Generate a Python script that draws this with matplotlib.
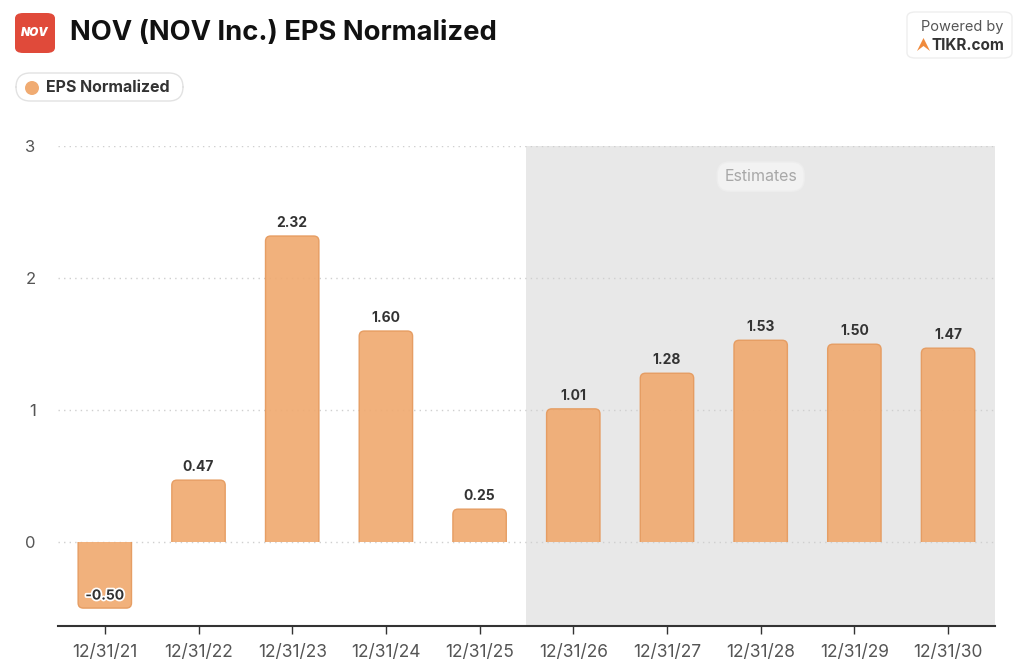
import matplotlib
matplotlib.use("Agg")
import matplotlib.pyplot as plt
from matplotlib.patches import FancyBboxPatch, Rectangle, Circle, Polygon
import matplotlib.patheffects as pe

# ---------------------------------------------------------------------------
# Data
# ---------------------------------------------------------------------------
DATES = ["12/31/21", "12/31/22", "12/31/23", "12/31/24", "12/31/25",
         "12/31/26", "12/31/27", "12/31/28", "12/31/29", "12/31/30"]
EPS = [-0.50, 0.47, 2.32, 1.60, 0.25, 1.01, 1.28, 1.53, 1.50, 1.47]
FIRST_ESTIMATE = 5  # index of the first estimated year
Y_TICKS = [0, 1, 2, 3]

# ---------------------------------------------------------------------------
# Style
# ---------------------------------------------------------------------------
BAR_FACE = "#F0AB72"
BAR_EDGE = "#E59A5E"
EST_BG = "#E8E8E8"
TEXT_DARK = "#333333"
TEXT_GRAY = "#555555"
GRID = "#CFCFCF"

plt.rcParams["font.family"] = ["Inter", "DejaVu Sans"]

fig = plt.figure(figsize=(10.24, 6.71), dpi=100)
ax = fig.add_axes([0.0566, 0.067, 0.915, 0.715])

ymin, ymax = -0.636, 3.0
ax.set_xlim(-0.5, len(DATES) - 0.5)
ax.set_ylim(ymin, ymax)

# estimates shading
ax.axvspan(FIRST_ESTIMATE - 0.5, len(DATES) - 0.5, color=EST_BG, zorder=0, lw=0)

for y in Y_TICKS:
    ax.axhline(y, color=GRID, lw=1, ls=(0, (1, 3)), zorder=1)

# bars (rounded ends away from zero)
bw = 0.57
px_per_x = 0.915 * 1024 / len(DATES)
px_per_y = 0.715 * 671 / (ymax - ymin)
aspect = px_per_x / px_per_y
r = 0.055  # rounding in x-data units
bars = ax.bar(range(len(DATES)), EPS, width=bw, color="none", edgecolor="none")
for i, (b, v) in enumerate(zip(bars, EPS)):
    x0 = b.get_x()
    ext = r * aspect
    if v >= 0:
        y0, h = -ext, v + ext
        clip = Rectangle((x0 - 0.1, 0), bw + 0.2, 10, transform=ax.transData)
    else:
        y0, h = v, -v + ext
        clip = Rectangle((x0 - 0.1, -10), bw + 0.2, 10, transform=ax.transData)
    patch = FancyBboxPatch((x0, y0), bw, h,
                           boxstyle=f"round,pad=0,rounding_size={r}",
                           mutation_aspect=aspect,
                           facecolor=BAR_FACE, edgecolor=BAR_EDGE, lw=1.0,
                           alpha=0.93, zorder=3)
    ax.add_patch(patch)
    patch.set_clip_path(clip)

    if v >= 0:
        ax.annotate(f"{v:.2f}", (i, v), xytext=(0, 4.5), textcoords="offset points",
                    ha="center", va="bottom", fontsize=10, fontweight="bold",
                    color=TEXT_DARK, zorder=5)
    else:
        t = ax.annotate(f"{v:.2f}", (i, v), xytext=(0, 4), textcoords="offset points",
                        ha="center", va="bottom", fontsize=10, fontweight="bold",
                        color=TEXT_DARK, zorder=5)
        t.set_path_effects([pe.withStroke(linewidth=2.5, foreground="white")])

# Estimates pill
ax.text((FIRST_ESTIMATE - 0.5 + len(DATES) - 0.5) / 2, 2.77, "Estimates",
        ha="center", va="center", fontsize=11.5, color="#A8A8A8", zorder=4,
        bbox=dict(boxstyle="round,pad=0.45,rounding_size=0.8",
                  facecolor="#F2F2F2", edgecolor="#EDEDED", lw=1))

# axes styling
for s in ["top", "right", "left"]:
    ax.spines[s].set_visible(False)
ax.spines["bottom"].set_position(("data", ymin))
ax.spines["bottom"].set_color(TEXT_DARK)
ax.spines["bottom"].set_linewidth(1.5)
ax.set_xticks(range(len(DATES)))
ax.set_xticklabels(DATES)
ax.set_yticks(Y_TICKS)
ax.tick_params(axis="x", length=6, width=1, color=TEXT_DARK, labelsize=12.5,
               labelcolor=TEXT_GRAY, pad=7)
ax.tick_params(axis="y", length=0, labelsize=12, labelcolor=TEXT_GRAY, pad=16)

# ---------------------------------------------------------------------------
# Header
# ---------------------------------------------------------------------------
logo = FancyBboxPatch((15 / 1024, 1 - 53 / 671), 40 / 1024, 40 / 671,
                      boxstyle="round,pad=0,rounding_size=0.008",
                      transform=fig.transFigure, facecolor="#E04A3A",
                      edgecolor="none")
fig.patches.append(logo)
fig.text(35 / 1024, 1 - 33 / 671, "NOV", ha="center", va="center",
         fontsize=8.5, fontweight="black", color="white", style="italic")

fig.text(70 / 1024, 1 - 33 / 671, "NOV (NOV Inc.) EPS Normalized",
         ha="left", va="center", fontsize=19.7, fontweight="bold", color="#111111")

# legend pill
leg = FancyBboxPatch((16 / 1024, 1 - 101 / 671), 167 / 1024, 28 / 671,
                     boxstyle="round,pad=0,rounding_size=0.014",
                     mutation_aspect=1024 / 671,
                     transform=fig.transFigure, facecolor="white",
                     edgecolor="#E2E2E2", lw=1)
fig.patches.append(leg)
fig.patches.append(Circle((32 / 100, (671 - 88) / 100), 0.07,
                          transform=fig.dpi_scale_trans, facecolor=BAR_FACE,
                          edgecolor="none"))
fig.text(46 / 1024, 1 - 88 / 671, "EPS Normalized", ha="left", va="center",
         fontsize=11.5, fontweight="bold", color=TEXT_DARK)

# powered by box
pb = FancyBboxPatch((907 / 1024, 1 - 58 / 671), 105 / 1024, 46 / 671,
                    boxstyle="round,pad=0,rounding_size=0.008",
                    transform=fig.transFigure, facecolor="white",
                    edgecolor="#EEEEEE", lw=1)
fig.patches.append(pb)
fig.text(962 / 1024, 1 - 27 / 671, "Powered by", ha="center", va="center",
         fontsize=10.5, color=TEXT_GRAY)
fig.text(932 / 1024, 1 - 45 / 671, "TIKR.com", ha="left", va="center",
         fontsize=11, fontweight="bold", color=TEXT_DARK)
fig.patches.append(Polygon([(917 / 1024, 1 - 51 / 671), (923.5 / 1024, 1 - 38 / 671),
                            (930 / 1024, 1 - 51 / 671), (923.5 / 1024, 1 - 46 / 671)],
                           closed=True, transform=fig.transFigure,
                           facecolor="#F08A3C", edgecolor="none"))

fig.savefig("out.png", dpi=100, facecolor="white")
